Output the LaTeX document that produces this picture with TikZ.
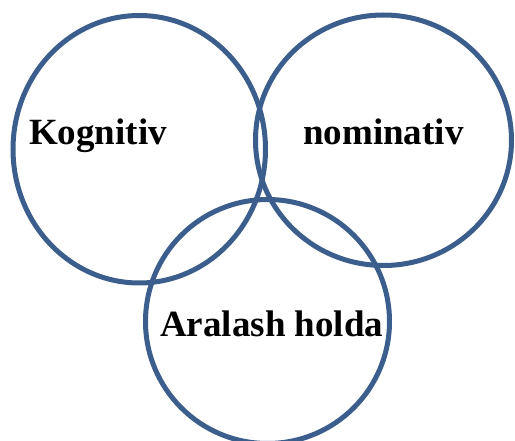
\documentclass[tikz,border=0pt]{standalone}
\usepackage{fontspec}
\setmainfont{Liberation Serif}
\usepackage{xcolor}
\definecolor{ringblue}{RGB}{59,94,140}

\begin{document}
\begin{tikzpicture}[x=1pt,y=-1pt,
  ring/.style={draw=ringblue,line width=5pt},
  lbl/.style={anchor=base west,inner sep=0pt,font=\fontsize{37}{40}\selectfont\bfseries}]
\useasboundingbox (0,0) rectangle (515,441);
\clip (0,0) rectangle (515,441);
\draw[ring] (139.25,149.25) ellipse [x radius=126.25, y radius=133.75];
\draw[ring] (383.5,140.25) ellipse [x radius=128, y radius=125.25];
\draw[ring] (267.5,321.5) ellipse [x radius=122, y radius=122];
\node[lbl] (kog) at (29,145) {Kognitiv};
\node[lbl] (nom) at (303,145) {nominativ};
\node[lbl] (ara) at (160,337) {Aralash holda};
\end{tikzpicture}
\end{document}
